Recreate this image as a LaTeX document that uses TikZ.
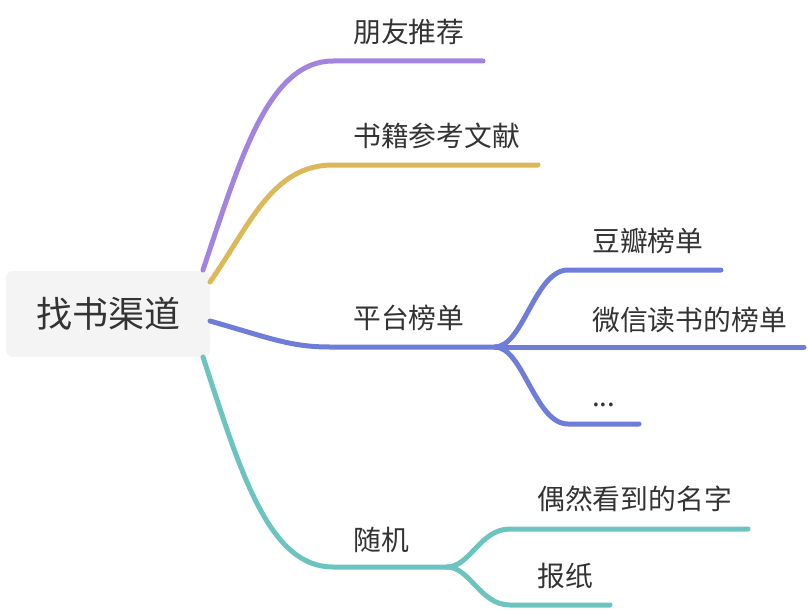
\documentclass[tikz,border=0pt]{standalone}
\usepackage{fontspec}
\newfontfamily\cjk{Noto Sans CJK SC}
\definecolor{cPurple}{HTML}{A383E0}
\definecolor{cGold}{HTML}{DDB85A}
\definecolor{cBlue}{HTML}{6E7DD7}
\definecolor{cTeal}{HTML}{6CC4C0}
\definecolor{cText}{HTML}{333333}
\definecolor{cRoot}{HTML}{F4F4F4}
\begin{document}
\begin{tikzpicture}[x=1pt,y=-1pt,
  rootbox/.style={fill=cRoot,rounded corners=7pt,minimum width=204pt,minimum height=86pt,inner sep=0pt,
    font=\cjk\fontsize{36}{40}\selectfont,text=cText},
  lbl/.style={anchor=base west,inner sep=0pt,font=\cjk\fontsize{27.8}{30}\selectfont,text=cText},
  branch/.style={line width=5pt,line cap=round,line join=round}]
\useasboundingbox (0,0) rectangle (808,610);
\node[rootbox] (root) at (108,314) {找书渠道};
% labels
\node[lbl] (a) at (353,43) {朋友推荐};
\node[lbl] (b) at (353,146) {书籍参考文献};
\node[lbl] (c) at (353,328) {平台榜单};
\node[lbl] (c1) at (592,251) {豆瓣榜单};
\node[lbl] (c2) at (592,330) {微信读书的榜单};
\node[lbl] (c3) at (592,406) {...};
\node[lbl] (d) at (353,550) {随机};
\node[lbl] (d1) at (537,509) {偶然看到的名字};
\node[lbl] (d2) at (537,586) {报纸};
% line points
\coordinate (as) at (203,270); \coordinate (ak) at (333,61); \coordinate (ae) at (483,61);
\coordinate (bs) at (210,282); \coordinate (bk) at (333,165); \coordinate (be) at (538,165);
\coordinate (cs) at (210,321); \coordinate (ck) at (330,347); \coordinate (ce) at (495,347);
\coordinate (c1k) at (568,270); \coordinate (c1e) at (721,270);
\coordinate (c2e) at (804,347);
\coordinate (c3k) at (568,424); \coordinate (c3e) at (639,424);
\coordinate (ds) at (203,357); \coordinate (dk) at (333,567); \coordinate (de) at (447,567);
\coordinate (d1k) at (510,529); \coordinate (d1e) at (748,529);
\coordinate (d2k) at (510,605); \coordinate (d2e) at (610,605);
% branches
\draw[branch,cPurple] (as) .. controls (240,160) and (268,61) .. (ak) -- (ae);
\draw[branch,cGold] (bs) .. controls (250,225) and (272,165) .. (bk) -- (be);
\draw[branch,cBlue] (cs) .. controls (270,338) and (290,347) .. (ck) -- (ce);
\draw[branch,cBlue] (ce) .. controls (523,347) and (535,270) .. (c1k) -- (c1e);
\draw[branch,cBlue] (ce) -- (c2e);
\draw[branch,cBlue] (ce) .. controls (523,347) and (535,424) .. (c3k) -- (c3e);
\draw[branch,cTeal] (ds) .. controls (240,470) and (268,567) .. (dk) -- (de);
\draw[branch,cTeal] (de) .. controls (470,567) and (480,529) .. (d1k) -- (d1e);
\draw[branch,cTeal] (de) .. controls (470,567) and (480,605) .. (d2k) -- (d2e);
\end{tikzpicture}
\end{document}
